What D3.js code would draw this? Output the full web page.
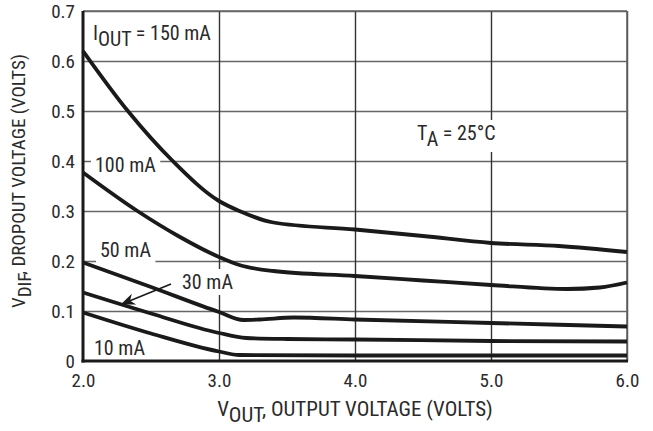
<!DOCTYPE html>
<html>
<head>
<meta charset="utf-8">
<script src="https://cdn.jsdelivr.net/npm/d3@7"></script>
<style>
  body { margin: 0; background: #fff; }
  svg text { font-family: "Liberation Sans Narrow", "Roboto Condensed", "Liberation Sans", sans-serif; fill: #2a2a2a; }
</style>
</head>
<body>
<div class="chart"></div>
<script>
let margin = { top: 11, right: 26, bottom: 70, left: 83 };
let width = 653 - margin.left - margin.right;
let height = 431 - margin.top - margin.bottom;

const xTicks = [2, 3, 4, 5, 6];
const xTickLabels = ["2.0", "3.0", "4.0", "5.0", "6.0"];
const yTicks = [0, 0.1, 0.2, 0.3, 0.4, 0.5, 0.6, 0.7];
const yTickLabels = ["0", "0.1", "0.2", "0.3", "0.4", "0.5", "0.6", "0.7"];

// dropout voltage curves
const vout150 = [2.0, 2.33, 2.66, 3.0, 3.15, 3.4, 4.0, 4.5, 5.0, 5.5, 6.0];
const vdif150 = [0.62, 0.5, 0.4, 0.32, 0.3, 0.277, 0.263, 0.25, 0.236, 0.23, 0.218];
const vout100 = [2.0, 2.4, 2.7, 3.0, 3.15, 3.4, 4.0, 4.5, 5.0, 5.56, 5.8, 6.0];
const vdif100 = [0.377, 0.3, 0.25, 0.208, 0.192, 0.18, 0.17, 0.161, 0.152, 0.144, 0.147, 0.157];
const vout50 = [2.0, 2.5, 3.0, 3.18, 3.3, 3.55, 4.0, 5.0, 6.0];
const vdif50 = [0.197, 0.148, 0.098, 0.082, 0.083, 0.087, 0.083, 0.076, 0.069];
const vout30 = [2.0, 2.5, 3.0, 3.2, 3.5, 4.0, 5.0, 6.0];
const vdif30 = [0.137, 0.095, 0.056, 0.046, 0.044, 0.043, 0.04, 0.039];
const vout10 = [2.0, 2.5, 3.0, 3.15, 4.0, 5.0, 6.0];
const vdif10 = [0.097, 0.055, 0.019, 0.012, 0.011, 0.011, 0.011];

const curves = [
  { x: vout150, y: vdif150 },
  { x: vout100, y: vdif100 },
  { x: vout50, y: vdif50 },
  { x: vout30, y: vdif30 },
  { x: vout10, y: vdif10 }
];

let svg = d3
  .select(".chart")
  .append("svg")
  .attr("width", 653)
  .attr("height", 431)
  .append("g")
  .attr("transform", `translate(${margin.left}, ${margin.top})`);

let xScale = d3.scaleLinear().domain([2, 6]).range([0, width]);
let yScale = d3.scaleLinear().domain([0, 0.7]).range([height, 0]);

// grid
svg.append("g")
  .attr("class", "hgrid")
  .call(d3.axisLeft(yScale).tickValues(yTicks.slice(1)).tickSize(-width).tickFormat(""))
  .call(g => g.select(".domain").remove())
  .call(g => g.selectAll("line").attr("stroke", "#666").attr("stroke-width", 1.6));

svg.append("g")
  .attr("class", "vgrid")
  .attr("transform", `translate(0, ${height})`)
  .call(d3.axisBottom(xScale).tickValues(xTicks.slice(1)).tickSize(-height).tickFormat(""))
  .call(g => g.select(".domain").remove())
  .call(g => g.selectAll("line").attr("stroke", "#333").attr("stroke-width", 1.4));

// tick labels
svg.append("g")
  .attr("transform", `translate(0, ${height})`)
  .call(d3.axisBottom(xScale).tickValues(xTicks).tickSize(0).tickPadding(13)
    .tickFormat((d, i) => xTickLabels[i]))
  .call(g => g.select(".domain").remove())
  .call(g => g.selectAll("text").attr("font-size", 19));

svg.append("g")
  .call(d3.axisLeft(yScale).tickValues(yTicks).tickSize(0).tickPadding(8)
    .tickFormat((d, i) => yTickLabels[i]))
  .call(g => g.select(".domain").remove())
  .call(g => g.selectAll("text").attr("font-size", 19));

// labels with white boxes that break the grid
function label(x, y, parts, size) {
  const g = svg.append("g");
  const t = g.append("text").attr("x", x).attr("y", y).attr("font-size", size);
  parts.forEach(p => {
    const s = t.append("tspan").text(p.t);
    if (p.sub) s.attr("baseline-shift", "-30%");
  });
  const b = t.node().getBBox();
  g.insert("rect", "text")
    .attr("x", b.x - 4).attr("y", b.y - 1)
    .attr("width", b.width + 8).attr("height", b.height + 2)
    .attr("fill", "#fff");
  return g;
}

label(10, 29, [{ t: "I" }, { t: "OUT", sub: true }, { t: " = 150 mA" }], 20);
label(12, 161, [{ t: "100 mA" }], 20);
label(17, 246, [{ t: "50 mA" }], 20);
label(99, 278, [{ t: "30 mA" }], 20);
label(11, 344, [{ t: "10 mA" }], 20);
label(334, 129, [{ t: "T" }, { t: "A", sub: true }, { t: " = 25°C" }], 20);

// frame
svg.append("line").attr("x1", 0).attr("x2", width).attr("y1", 0).attr("y2", 0)
  .attr("stroke", "#666").attr("stroke-width", 1.6);
svg.append("line").attr("x1", width).attr("x2", width).attr("y1", 0).attr("y2", height)
  .attr("stroke", "#666").attr("stroke-width", 1.6);

// curves
const line = d3.line()
  .x(d => xScale(d[0]))
  .y(d => yScale(d[1]))
  .curve(d3.curveMonotoneX);

svg.selectAll("path.curve")
  .data(curves)
  .enter()
  .append("path")
  .attr("class", "curve")
  .attr("d", c => line(c.x.map((v, i) => [v, c.y[i]])))
  .attr("fill", "none")
  .attr("stroke", "#1a1a1a")
  .attr("stroke-width", 3.8);

// arrow for 30 mA
svg.append("defs").append("marker")
  .attr("id", "ah").attr("viewBox", "0 0 10 10").attr("refX", 9).attr("refY", 5)
  .attr("markerWidth", 9).attr("markerHeight", 9).attr("orient", "auto")
  .append("path").attr("d", "M0,1 L10,5 L0,9 L3,5 Z").attr("fill", "#1a1a1a");

svg.append("line")
  .attr("x1", 88).attr("y1", 273).attr("x2", 39).attr("y2", 293)
  .attr("stroke", "#1a1a1a").attr("stroke-width", 1.6)
  .attr("marker-end", "url(#ah)");

// axes lines
svg.append("line").attr("x1", 0).attr("x2", 0).attr("y1", 0).attr("y2", height + 1.5)
  .attr("stroke", "#1a1a1a").attr("stroke-width", 3);
svg.append("line").attr("x1", -1.5).attr("x2", width + 1).attr("y1", height).attr("y2", height)
  .attr("stroke", "#1a1a1a").attr("stroke-width", 3);

// axis titles
const xt = svg.append("text")
  .attr("x", width / 2).attr("y", height + 55)
  .attr("text-anchor", "middle").attr("font-size", 21);
xt.append("tspan").text("V");
xt.append("tspan").text("OUT").attr("baseline-shift", "-30%");
xt.append("tspan").text(", OUTPUT VOLTAGE (VOLTS)");

const yt = svg.append("text")
  .attr("transform", `translate(${-58}, ${170}) rotate(-90)`)
  .attr("text-anchor", "middle").attr("font-size", 19);
yt.append("tspan").text("V");
yt.append("tspan").text("DIF").attr("baseline-shift", "-30%");
yt.append("tspan").text(", DROPOUT VOLTAGE (VOLTS)");
</script>
</body>
</html>
